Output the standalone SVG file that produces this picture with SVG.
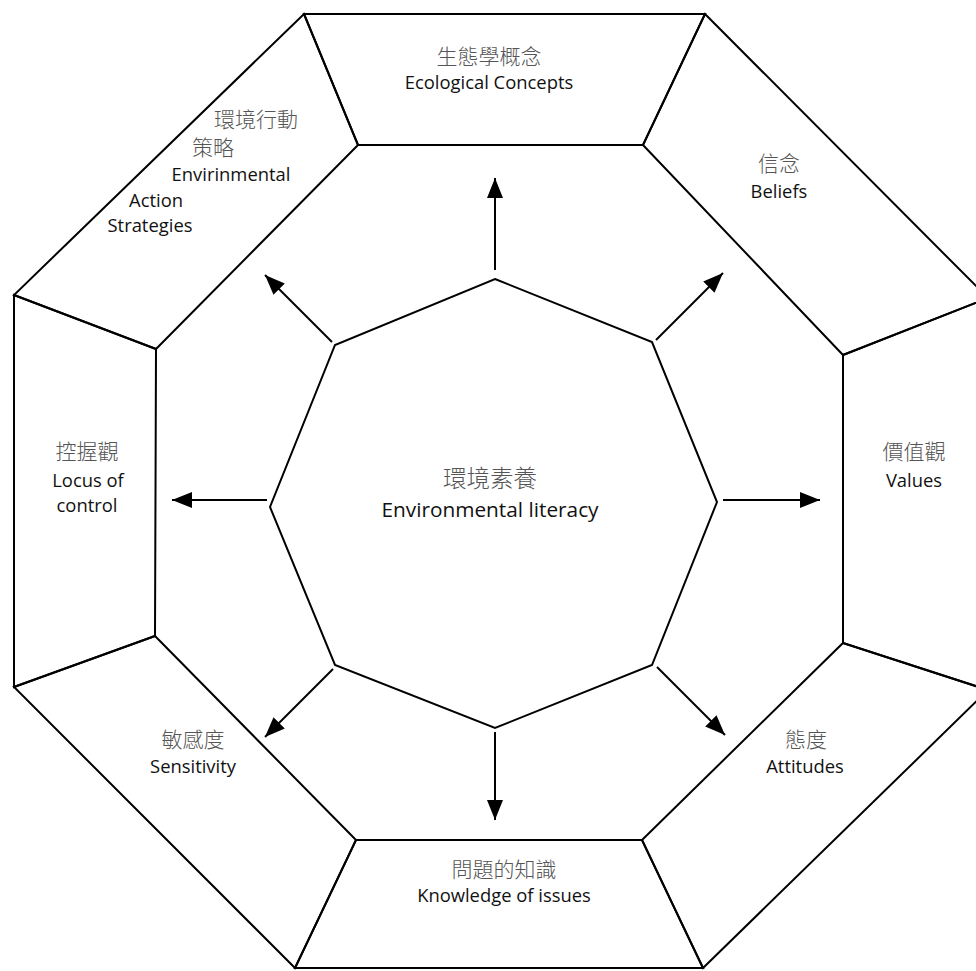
<svg xmlns="http://www.w3.org/2000/svg" width="976" height="971" viewBox="0 0 976 971">
<defs>
<style>
.seg{fill:none;stroke:#000;stroke-width:2;stroke-linejoin:miter}
.conn line{stroke:#000;stroke-width:2;marker-end:url(#ah)}
.zh{font-family:"Noto Sans CJK TC","Noto Sans CJK SC",sans-serif;font-size:21px;font-weight:300;fill:#555;text-anchor:middle}
.en{font-family:"Open Sans","Liberation Sans",sans-serif;font-size:18.4px;fill:#111;text-anchor:middle}
.big.zh{font-size:23.5px}
.big.en{font-size:20.8px}
</style>
<marker id="ah" markerUnits="userSpaceOnUse" markerWidth="20" markerHeight="16" refX="20" refY="8" orient="auto">
<path d="M0,0 L20,8 L0,16 z" fill="#000"/>
</marker>
</defs>
<rect width="976" height="971" fill="#fff"/>
<g id="ecological">
<polygon class="seg" points="304,14 705,14 643,145 358,145"/>
<text class="zh" x="489" y="64">生態學概念</text>
<text class="en" x="489" y="89">Ecological Concepts</text>
</g>
<g id="beliefs">
<polygon class="seg" points="705,14 988,298 843,355 643,145"/>
<text class="zh" x="779" y="171">信念</text>
<text class="en" x="779" y="198">Beliefs</text>
</g>
<g id="values">
<polygon class="seg" points="843,355 988,298 988,690 843,643"/>
<text class="zh" x="914" y="459">價值觀</text>
<text class="en" x="914" y="487">Values</text>
</g>
<g id="attitudes">
<polygon class="seg" points="843,643 988,690 703,968 642,840"/>
<text class="zh" x="806" y="747">態度</text>
<text class="en" x="805" y="773">Attitudes</text>
</g>
<g id="knowledge">
<polygon class="seg" points="356,840 642,840 703,968 295,968"/>
<text class="zh" x="504" y="877">問題的知識</text>
<text class="en" x="504" y="902">Knowledge of issues</text>
</g>
<g id="sensitivity">
<polygon class="seg" points="155,636 356,840 295,968 14,687"/>
<text class="zh" x="193" y="747">敏感度</text>
<text class="en" x="193" y="773">Sensitivity</text>
</g>
<g id="locus">
<polygon class="seg" points="14,295 156,349 155,636 14,687"/>
<text class="zh" x="87" y="459">控握觀</text>
<text class="en" x="88" y="487">Locus of</text>
<text class="en" x="87" y="512">control</text>
</g>
<g id="action">
<polygon class="seg" points="304,14 358,145 156,349 14,295"/>
<text class="zh" x="256" y="127">環境行動</text>
<text class="zh" x="213" y="155">策略</text>
<text class="en" x="231" y="181">Envirinmental</text>
<text class="en" x="156" y="207">Action</text>
<text class="en" x="150" y="232">Strategies</text>
</g>
<g id="literacy">
<polygon class="seg" points="495,279 652,342 717,502 652,665 495,728 335,665 270,507 335,345"/>
<text class="zh big" x="490" y="487">環境素養</text>
<text class="en big" x="490" y="517">Environmental literacy</text>
</g>
<g id="connectors" class="conn">
<line x1="495" y1="270" x2="495" y2="178"/>
<line x1="656" y1="340" x2="723" y2="273"/>
<line x1="723" y1="500" x2="820" y2="500"/>
<line x1="657" y1="667" x2="725" y2="735"/>
<line x1="495" y1="732" x2="495" y2="820"/>
<line x1="333" y1="669" x2="265" y2="737"/>
<line x1="267" y1="500" x2="172" y2="500"/>
<line x1="332" y1="342" x2="265" y2="275"/>
</g>
</svg>
